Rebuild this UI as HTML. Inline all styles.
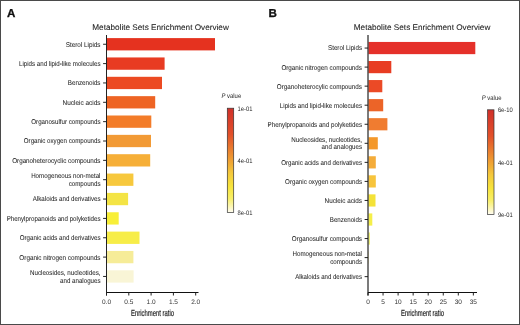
<!DOCTYPE html>
<html><head><meta charset="utf-8"><style>
html,body{margin:0;padding:0;background:#fff;}
body{width:520px;height:325px;overflow:hidden;}
svg{display:block;font-family:"Liberation Sans",sans-serif;will-change:transform;text-rendering:geometricPrecision;}
</style></head><body>
<svg width="520" height="325" viewBox="0 0 520 325">
<rect x="0" y="0" width="520" height="325" fill="#fff"/>
<rect x="0.5" y="0.5" width="519" height="324" fill="none" stroke="#4a4a4a" stroke-width="1"/>
<text x="6.9" y="16.8" font-size="11.6" font-weight="bold" fill="#111" stroke="#111" stroke-width="0.3">A</text>
<text x="92.3" y="29.9" font-size="8.2" fill="#1e1e1e" stroke="#1e1e1e" stroke-width="0.08">Metabolite Sets Enrichment Overview</text>
<rect x="107.0" y="38.10" width="108.00" height="12.3" fill="#e5321f"/>
<line x1="103.1" x2="106.5" y1="44.25" y2="44.25" stroke="#222" stroke-width="1"/>
<text x="100.50" y="46.65" text-anchor="end" font-size="7.0" fill="#2a2a2a" stroke="#2a2a2a" stroke-width="0.06" textLength="34.72" lengthAdjust="spacingAndGlyphs">Sterol Lipids</text>
<rect x="107.0" y="57.45" width="57.60" height="12.3" fill="#e83b22"/>
<line x1="103.1" x2="106.5" y1="63.60" y2="63.60" stroke="#222" stroke-width="1"/>
<text x="100.50" y="66.00" text-anchor="end" font-size="7.0" fill="#2a2a2a" stroke="#2a2a2a" stroke-width="0.06" textLength="81.49" lengthAdjust="spacingAndGlyphs">Lipids and lipid-like molecules</text>
<rect x="107.0" y="76.80" width="55.00" height="12.3" fill="#ec4a22"/>
<line x1="103.1" x2="106.5" y1="82.95" y2="82.95" stroke="#222" stroke-width="1"/>
<text x="100.50" y="85.35" text-anchor="end" font-size="7.0" fill="#2a2a2a" stroke="#2a2a2a" stroke-width="0.06" textLength="32.71" lengthAdjust="spacingAndGlyphs">Benzenoids</text>
<rect x="107.0" y="96.15" width="48.20" height="12.3" fill="#ee6424"/>
<line x1="103.1" x2="106.5" y1="102.30" y2="102.30" stroke="#222" stroke-width="1"/>
<text x="100.50" y="104.70" text-anchor="end" font-size="7.0" fill="#2a2a2a" stroke="#2a2a2a" stroke-width="0.06" textLength="37.95" lengthAdjust="spacingAndGlyphs">Nucleic acids</text>
<rect x="107.0" y="115.50" width="44.30" height="12.3" fill="#f37c29"/>
<line x1="103.1" x2="106.5" y1="121.65" y2="121.65" stroke="#222" stroke-width="1"/>
<text x="100.50" y="124.05" text-anchor="end" font-size="7.0" fill="#2a2a2a" stroke="#2a2a2a" stroke-width="0.06" textLength="69.17" lengthAdjust="spacingAndGlyphs">Organosulfur compounds</text>
<rect x="107.0" y="134.85" width="44.00" height="12.3" fill="#f29a35"/>
<line x1="103.1" x2="106.5" y1="141.00" y2="141.00" stroke="#222" stroke-width="1"/>
<text x="100.50" y="143.40" text-anchor="end" font-size="7.0" fill="#2a2a2a" stroke="#2a2a2a" stroke-width="0.06" textLength="76.70" lengthAdjust="spacingAndGlyphs">Organic oxygen compounds</text>
<rect x="107.0" y="154.20" width="43.20" height="12.3" fill="#f6af38"/>
<line x1="103.1" x2="106.5" y1="160.35" y2="160.35" stroke="#222" stroke-width="1"/>
<text x="100.50" y="162.75" text-anchor="end" font-size="7.0" fill="#2a2a2a" stroke="#2a2a2a" stroke-width="0.06" textLength="88.34" lengthAdjust="spacingAndGlyphs">Organoheterocyclic compounds</text>
<rect x="107.0" y="173.55" width="26.40" height="12.3" fill="#f7c83d"/>
<line x1="103.1" x2="106.5" y1="179.70" y2="179.70" stroke="#222" stroke-width="1"/>
<text x="100.50" y="178.45" text-anchor="end" font-size="7.0" fill="#2a2a2a" stroke="#2a2a2a" stroke-width="0.06" textLength="69.37" lengthAdjust="spacingAndGlyphs">Homogeneous non-metal</text>
<text x="100.50" y="185.75" text-anchor="end" font-size="7.0" fill="#2a2a2a" stroke="#2a2a2a" stroke-width="0.06" textLength="31.85" lengthAdjust="spacingAndGlyphs">compounds</text>
<rect x="107.0" y="192.90" width="21.10" height="12.3" fill="#f4e445"/>
<line x1="103.1" x2="106.5" y1="199.05" y2="199.05" stroke="#222" stroke-width="1"/>
<text x="100.50" y="201.45" text-anchor="end" font-size="7.0" fill="#2a2a2a" stroke="#2a2a2a" stroke-width="0.06" textLength="67.69" lengthAdjust="spacingAndGlyphs">Alkaloids and derivatives</text>
<rect x="107.0" y="212.25" width="11.70" height="12.3" fill="#f8ef38"/>
<line x1="103.1" x2="106.5" y1="218.40" y2="218.40" stroke="#222" stroke-width="1"/>
<text x="100.50" y="220.80" text-anchor="end" font-size="7.0" fill="#2a2a2a" stroke="#2a2a2a" stroke-width="0.06" textLength="93.83" lengthAdjust="spacingAndGlyphs">Phenylpropanoids and polyketides</text>
<rect x="107.0" y="231.60" width="32.50" height="12.3" fill="#f7ed48"/>
<line x1="103.1" x2="106.5" y1="237.75" y2="237.75" stroke="#222" stroke-width="1"/>
<text x="100.50" y="240.15" text-anchor="end" font-size="7.0" fill="#2a2a2a" stroke="#2a2a2a" stroke-width="0.06" textLength="80.80" lengthAdjust="spacingAndGlyphs">Organic acids and derivatives</text>
<rect x="107.0" y="250.95" width="26.40" height="12.3" fill="#f6ec98"/>
<line x1="103.1" x2="106.5" y1="257.10" y2="257.10" stroke="#222" stroke-width="1"/>
<text x="100.50" y="259.50" text-anchor="end" font-size="7.0" fill="#2a2a2a" stroke="#2a2a2a" stroke-width="0.06" textLength="81.13" lengthAdjust="spacingAndGlyphs">Organic nitrogen compounds</text>
<rect x="107.0" y="270.30" width="26.60" height="12.3" fill="#f9f5d6"/>
<line x1="103.1" x2="106.5" y1="276.45" y2="276.45" stroke="#222" stroke-width="1"/>
<text x="100.50" y="275.20" text-anchor="end" font-size="7.0" fill="#2a2a2a" stroke="#2a2a2a" stroke-width="0.06" textLength="70.56" lengthAdjust="spacingAndGlyphs">Nucleosides, nucleotides,</text>
<text x="100.50" y="282.50" text-anchor="end" font-size="7.0" fill="#2a2a2a" stroke="#2a2a2a" stroke-width="0.06" textLength="40.42" lengthAdjust="spacingAndGlyphs">and analogues</text>
<line x1="106.5" x2="106.5" y1="35" y2="295.5" stroke="#222" stroke-width="1"/>
<line x1="106.5" x2="198.5" y1="292.5" y2="292.5" stroke="#111" stroke-width="1"/>
<line x1="106.50" x2="106.50" y1="292.5" y2="295.5" stroke="#222" stroke-width="1"/>
<text x="106.50" y="304.4" text-anchor="middle" font-size="6.5" fill="#333">0.0</text>
<line x1="128.80" x2="128.80" y1="292.5" y2="295.5" stroke="#222" stroke-width="1"/>
<text x="128.80" y="304.4" text-anchor="middle" font-size="6.5" fill="#333">0.5</text>
<line x1="151.10" x2="151.10" y1="292.5" y2="295.5" stroke="#222" stroke-width="1"/>
<text x="151.10" y="304.4" text-anchor="middle" font-size="6.5" fill="#333">1.0</text>
<line x1="173.40" x2="173.40" y1="292.5" y2="295.5" stroke="#222" stroke-width="1"/>
<text x="173.40" y="304.4" text-anchor="middle" font-size="6.5" fill="#333">1.5</text>
<line x1="195.70" x2="195.70" y1="292.5" y2="295.5" stroke="#222" stroke-width="1"/>
<text x="195.70" y="304.4" text-anchor="middle" font-size="6.5" fill="#333">2.0</text>
<text x="152.50" y="316" text-anchor="middle" font-size="8.8" fill="#222" stroke="#222" stroke-width="0.2" textLength="43" lengthAdjust="spacingAndGlyphs">Enrichment ratio</text>
<defs><linearGradient id="gA" x1="0" y1="0" x2="0" y2="1"><stop offset="0" stop-color="#d0302a"/><stop offset="0.25" stop-color="#e2502a"/><stop offset="0.5" stop-color="#efa033"/><stop offset="0.62" stop-color="#f4c83c"/><stop offset="0.75" stop-color="#f7e43c"/><stop offset="0.87" stop-color="#f8ef6a"/><stop offset="1" stop-color="#fffcf2"/></linearGradient></defs>
<rect x="227.3" y="108.2" width="6.4" height="104.3" fill="url(#gA)" stroke="#333" stroke-width="0.7"/>
<text x="221.5" y="98.30" font-size="6.5" fill="#262626" textLength="19.68" lengthAdjust="spacingAndGlyphs"><tspan font-style="italic">P</tspan> value</text>
<text x="237.60000000000002" y="110.70" font-size="6.5" fill="#262626" textLength="14.83" lengthAdjust="spacingAndGlyphs">1e-01</text>
<text x="237.60000000000002" y="162.85" font-size="6.5" fill="#262626" textLength="14.83" lengthAdjust="spacingAndGlyphs">4e-01</text>
<text x="237.60000000000002" y="215.00" font-size="6.5" fill="#262626" textLength="14.83" lengthAdjust="spacingAndGlyphs">8e-01</text>
<text x="268.6" y="16.8" font-size="11.6" font-weight="bold" fill="#111" stroke="#111" stroke-width="0.3">B</text>
<text x="353.8" y="29.9" font-size="8.2" fill="#1e1e1e" stroke="#1e1e1e" stroke-width="0.08">Metabolite Sets Enrichment Overview</text>
<rect x="368.5" y="41.95" width="106.80" height="12.2" fill="#e5302a"/>
<line x1="364.6" x2="368.0" y1="48.05" y2="48.05" stroke="#222" stroke-width="1"/>
<text x="362.00" y="50.45" text-anchor="end" font-size="7.0" fill="#2a2a2a" stroke="#2a2a2a" stroke-width="0.06" textLength="33.90" lengthAdjust="spacingAndGlyphs">Sterol Lipids</text>
<rect x="368.5" y="61.00" width="22.80" height="12.2" fill="#e83c22"/>
<line x1="364.6" x2="368.0" y1="67.10" y2="67.10" stroke="#222" stroke-width="1"/>
<text x="362.00" y="69.50" text-anchor="end" font-size="7.0" fill="#2a2a2a" stroke="#2a2a2a" stroke-width="0.06" textLength="80.60" lengthAdjust="spacingAndGlyphs">Organic nitrogen compounds</text>
<rect x="368.5" y="80.05" width="13.80" height="12.2" fill="#eb4a26"/>
<line x1="364.6" x2="368.0" y1="86.15" y2="86.15" stroke="#222" stroke-width="1"/>
<text x="362.00" y="88.55" text-anchor="end" font-size="7.0" fill="#2a2a2a" stroke="#2a2a2a" stroke-width="0.06" textLength="85.16" lengthAdjust="spacingAndGlyphs">Organoheterocylic compounds</text>
<rect x="368.5" y="99.10" width="14.70" height="12.2" fill="#ec6428"/>
<line x1="364.6" x2="368.0" y1="105.20" y2="105.20" stroke="#222" stroke-width="1"/>
<text x="362.00" y="107.60" text-anchor="end" font-size="7.0" fill="#2a2a2a" stroke="#2a2a2a" stroke-width="0.06" textLength="82.19" lengthAdjust="spacingAndGlyphs">Lipids and lipid-like molecules</text>
<rect x="368.5" y="118.15" width="18.90" height="12.2" fill="#f07c30"/>
<line x1="364.6" x2="368.0" y1="124.25" y2="124.25" stroke="#222" stroke-width="1"/>
<text x="362.00" y="126.65" text-anchor="end" font-size="7.0" fill="#2a2a2a" stroke="#2a2a2a" stroke-width="0.06" textLength="94.44" lengthAdjust="spacingAndGlyphs">Phenylpropanoids and polyketides</text>
<rect x="368.5" y="137.20" width="9.30" height="12.2" fill="#f4982a"/>
<line x1="364.6" x2="368.0" y1="143.30" y2="143.30" stroke="#222" stroke-width="1"/>
<text x="362.00" y="142.05" text-anchor="end" font-size="7.0" fill="#2a2a2a" stroke="#2a2a2a" stroke-width="0.06" textLength="70.76" lengthAdjust="spacingAndGlyphs">Nucleosides, nucleotides,</text>
<text x="362.00" y="149.35" text-anchor="end" font-size="7.0" fill="#2a2a2a" stroke="#2a2a2a" stroke-width="0.06" textLength="40.42" lengthAdjust="spacingAndGlyphs">and analogues</text>
<rect x="368.5" y="156.25" width="7.30" height="12.2" fill="#f4ac3a"/>
<line x1="364.6" x2="368.0" y1="162.35" y2="162.35" stroke="#222" stroke-width="1"/>
<text x="362.00" y="164.75" text-anchor="end" font-size="7.0" fill="#2a2a2a" stroke="#2a2a2a" stroke-width="0.06" textLength="80.80" lengthAdjust="spacingAndGlyphs">Organic acids and derivatives</text>
<rect x="368.5" y="175.30" width="7.30" height="12.2" fill="#f7c43c"/>
<line x1="364.6" x2="368.0" y1="181.40" y2="181.40" stroke="#222" stroke-width="1"/>
<text x="362.00" y="183.80" text-anchor="end" font-size="7.0" fill="#2a2a2a" stroke="#2a2a2a" stroke-width="0.06" textLength="76.90" lengthAdjust="spacingAndGlyphs">Organic oxygen compounds</text>
<rect x="368.5" y="194.35" width="7.00" height="12.2" fill="#f4e238"/>
<line x1="364.6" x2="368.0" y1="200.45" y2="200.45" stroke="#222" stroke-width="1"/>
<text x="362.00" y="202.85" text-anchor="end" font-size="7.0" fill="#2a2a2a" stroke="#2a2a2a" stroke-width="0.06" textLength="37.40" lengthAdjust="spacingAndGlyphs">Nucleic acids</text>
<rect x="368.5" y="213.40" width="3.80" height="12.2" fill="#f5ef4a"/>
<line x1="364.6" x2="368.0" y1="219.50" y2="219.50" stroke="#222" stroke-width="1"/>
<text x="362.00" y="221.90" text-anchor="end" font-size="7.0" fill="#2a2a2a" stroke="#2a2a2a" stroke-width="0.06" textLength="32.19" lengthAdjust="spacingAndGlyphs">Benzenoids</text>
<rect x="368.5" y="232.45" width="1.40" height="12.2" fill="#eef070"/>
<line x1="364.6" x2="368.0" y1="238.55" y2="238.55" stroke="#222" stroke-width="1"/>
<text x="362.00" y="240.95" text-anchor="end" font-size="7.0" fill="#2a2a2a" stroke="#2a2a2a" stroke-width="0.06" textLength="70.17" lengthAdjust="spacingAndGlyphs">Organosulfur compounds</text>
<rect x="368.5" y="251.50" width="0.40" height="12.2" fill="#f7eb90"/>
<line x1="364.6" x2="368.0" y1="257.60" y2="257.60" stroke="#222" stroke-width="1"/>
<text x="362.00" y="256.35" text-anchor="end" font-size="7.0" fill="#2a2a2a" stroke="#2a2a2a" stroke-width="0.06" textLength="69.47" lengthAdjust="spacingAndGlyphs">Homogeneous non-metal</text>
<text x="362.00" y="263.65" text-anchor="end" font-size="7.0" fill="#2a2a2a" stroke="#2a2a2a" stroke-width="0.06" textLength="31.85" lengthAdjust="spacingAndGlyphs">compounds</text>
<line x1="364.6" x2="368.0" y1="276.65" y2="276.65" stroke="#222" stroke-width="1"/>
<text x="362.00" y="279.05" text-anchor="end" font-size="7.0" fill="#2a2a2a" stroke="#2a2a2a" stroke-width="0.06" textLength="66.80" lengthAdjust="spacingAndGlyphs">Alkaloids and derivatives</text>
<line x1="368.0" x2="368.0" y1="35" y2="295.5" stroke="#1a1a1a" stroke-width="1.15"/>
<line x1="368.0" x2="477" y1="292.5" y2="292.5" stroke="#111" stroke-width="1"/>
<line x1="368.00" x2="368.00" y1="292.5" y2="295.5" stroke="#222" stroke-width="1"/>
<text x="368.00" y="304.4" text-anchor="middle" font-size="6.5" fill="#333">0</text>
<line x1="383.05" x2="383.05" y1="292.5" y2="295.5" stroke="#222" stroke-width="1"/>
<text x="383.05" y="304.4" text-anchor="middle" font-size="6.5" fill="#333">5</text>
<line x1="398.10" x2="398.10" y1="292.5" y2="295.5" stroke="#222" stroke-width="1"/>
<text x="398.10" y="304.4" text-anchor="middle" font-size="6.5" fill="#333">10</text>
<line x1="413.15" x2="413.15" y1="292.5" y2="295.5" stroke="#222" stroke-width="1"/>
<text x="413.15" y="304.4" text-anchor="middle" font-size="6.5" fill="#333">15</text>
<line x1="428.20" x2="428.20" y1="292.5" y2="295.5" stroke="#222" stroke-width="1"/>
<text x="428.20" y="304.4" text-anchor="middle" font-size="6.5" fill="#333">20</text>
<line x1="443.25" x2="443.25" y1="292.5" y2="295.5" stroke="#222" stroke-width="1"/>
<text x="443.25" y="304.4" text-anchor="middle" font-size="6.5" fill="#333">25</text>
<line x1="458.30" x2="458.30" y1="292.5" y2="295.5" stroke="#222" stroke-width="1"/>
<text x="458.30" y="304.4" text-anchor="middle" font-size="6.5" fill="#333">30</text>
<line x1="473.35" x2="473.35" y1="292.5" y2="295.5" stroke="#222" stroke-width="1"/>
<text x="473.35" y="304.4" text-anchor="middle" font-size="6.5" fill="#333">35</text>
<text x="422.50" y="316" text-anchor="middle" font-size="8.8" fill="#222" stroke="#222" stroke-width="0.2" textLength="43" lengthAdjust="spacingAndGlyphs">Enrichment ratio</text>
<defs><linearGradient id="gB" x1="0" y1="0" x2="0" y2="1"><stop offset="0" stop-color="#d0302a"/><stop offset="0.25" stop-color="#e2502a"/><stop offset="0.5" stop-color="#efa033"/><stop offset="0.62" stop-color="#f4c83c"/><stop offset="0.75" stop-color="#f7e43c"/><stop offset="0.87" stop-color="#f8ef6a"/><stop offset="1" stop-color="#fffcf2"/></linearGradient></defs>
<rect x="487.6" y="109.8" width="6.4" height="104.60000000000001" fill="url(#gB)" stroke="#333" stroke-width="0.7"/>
<text x="481.8" y="99.90" font-size="6.5" fill="#262626" textLength="19.68" lengthAdjust="spacingAndGlyphs"><tspan font-style="italic">P</tspan> value</text>
<text x="497.90000000000003" y="112.30" font-size="6.5" fill="#262626" textLength="14.83" lengthAdjust="spacingAndGlyphs">6e-10</text>
<text x="497.90000000000003" y="164.60" font-size="6.5" fill="#262626" textLength="14.83" lengthAdjust="spacingAndGlyphs">4e-01</text>
<text x="497.90000000000003" y="216.90" font-size="6.5" fill="#262626" textLength="14.83" lengthAdjust="spacingAndGlyphs">9e-01</text>
</svg>
</body></html>
